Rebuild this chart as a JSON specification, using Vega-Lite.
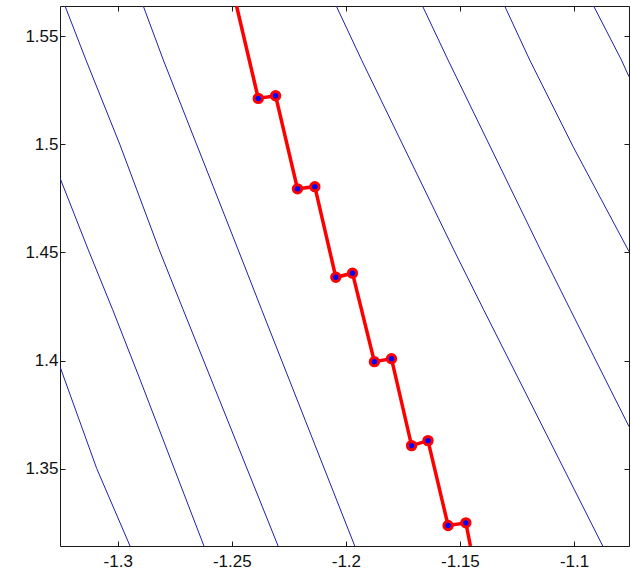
{
  "$schema": "https://vega.github.io/schema/vega-lite/v6.json",
  "width": 569,
  "height": 540,
  "autosize": "none",
  "padding": {"left": 60, "top": 6, "right": 2, "bottom": 31},
  "background": "white",
  "config": {
    "view": {"stroke": "#1a1a1a", "strokeWidth": 1},
    "axis": {
      "domain": false,
      "grid": false,
      "tickColor": "#1a1a1a",
      "tickSize": -5,
      "labelFont": "Liberation Sans",
      "labelFontSize": 17,
      "labelColor": "#111",
      "title": null
    }
  },
  "datasets": {
    "contours": [
      {"line": "A", "i": 0, "x": -1.3253, "y": 1.3972},
      {"line": "A", "i": 1, "x": -1.3092, "y": 1.3501},
      {"line": "A", "i": 2, "x": -1.2946, "y": 1.3143},
      {"line": "B", "i": 0, "x": -1.3253, "y": 1.4844},
      {"line": "B", "i": 1, "x": -1.3129, "y": 1.4512},
      {"line": "B", "i": 2, "x": -1.3022, "y": 1.4235},
      {"line": "B", "i": 3, "x": -1.2902, "y": 1.3912},
      {"line": "B", "i": 4, "x": -1.2622, "y": 1.3143},
      {"line": "C", "i": 0, "x": -1.3231, "y": 1.5639},
      {"line": "C", "i": 1, "x": -1.3139, "y": 1.5389},
      {"line": "C", "i": 2, "x": -1.2990, "y": 1.4997},
      {"line": "C", "i": 3, "x": -1.2818, "y": 1.4512},
      {"line": "C", "i": 4, "x": -1.2713, "y": 1.4235},
      {"line": "C", "i": 5, "x": -1.2297, "y": 1.3143},
      {"line": "D", "i": 0, "x": -1.2888, "y": 1.5639},
      {"line": "D", "i": 1, "x": -1.2800, "y": 1.5389},
      {"line": "D", "i": 2, "x": -1.2472, "y": 1.4512},
      {"line": "D", "i": 3, "x": -1.2369, "y": 1.4235},
      {"line": "D", "i": 4, "x": -1.1961, "y": 1.3143},
      {"line": "E", "i": 0, "x": -1.2042, "y": 1.5639},
      {"line": "E", "i": 1, "x": -1.1931, "y": 1.5389},
      {"line": "E", "i": 2, "x": -1.1527, "y": 1.4512},
      {"line": "E", "i": 3, "x": -1.1396, "y": 1.4235},
      {"line": "E", "i": 4, "x": -1.0874, "y": 1.3143},
      {"line": "F", "i": 0, "x": -1.1664, "y": 1.5639},
      {"line": "F", "i": 1, "x": -1.1552, "y": 1.5389},
      {"line": "F", "i": 2, "x": -1.1147, "y": 1.4512},
      {"line": "F", "i": 3, "x": -1.1016, "y": 1.4235},
      {"line": "F", "i": 4, "x": -1.0759, "y": 1.3695},
      {"line": "G", "i": 0, "x": -1.1304, "y": 1.5639},
      {"line": "G", "i": 1, "x": -1.1194, "y": 1.5389},
      {"line": "G", "i": 2, "x": -1.1004, "y": 1.4989},
      {"line": "G", "i": 3, "x": -1.0759, "y": 1.4504},
      {"line": "H", "i": 0, "x": -1.0914, "y": 1.5639},
      {"line": "H", "i": 1, "x": -1.0792, "y": 1.5389},
      {"line": "H", "i": 2, "x": -1.0759, "y": 1.5312}
    ],
    "path": [
      {"i": 0, "x": -1.2479, "y": 1.5639, "dot": false},
      {"i": 1, "x": -1.2384, "y": 1.5212, "dot": true},
      {"i": 2, "x": -1.2308, "y": 1.5224, "dot": true},
      {"i": 3, "x": -1.2212, "y": 1.4794, "dot": true},
      {"i": 4, "x": -1.2136, "y": 1.4804, "dot": true},
      {"i": 5, "x": -1.2044, "y": 1.4385, "dot": true},
      {"i": 6, "x": -1.1971, "y": 1.4404, "dot": true},
      {"i": 7, "x": -1.1875, "y": 1.3995, "dot": true},
      {"i": 8, "x": -1.1800, "y": 1.4009, "dot": true},
      {"i": 9, "x": -1.1712, "y": 1.3607, "dot": true},
      {"i": 10, "x": -1.1640, "y": 1.3630, "dot": true},
      {"i": 11, "x": -1.1552, "y": 1.3238, "dot": true},
      {"i": 12, "x": -1.1474, "y": 1.3250, "dot": true},
      {"i": 13, "x": -1.1454, "y": 1.3143, "dot": false}
    ]
  },
  "resolve": {"axis": {"x": "independent", "y": "independent"}},
  "layer": [
    {
      "data": {"name": "contours"},
      "mark": {"type": "line", "color": "#2020a8", "strokeWidth": 1, "clip": true},
      "encoding": {
        "x": {"field": "x", "type": "quantitative", "scale": {"domain": [-1.3253, -1.0759], "nice": false, "zero": false},
              "axis": {"orient": "bottom", "values": [-1.3, -1.25, -1.2, -1.15, -1.1], "format": "~f", "labelPadding": 12, "labelExpr": "replace(datum.label, '−', '-')"}},
        "y": {"field": "y", "type": "quantitative", "scale": {"domain": [1.3143, 1.5639], "nice": false, "zero": false},
              "axis": {"orient": "left", "values": [1.35, 1.4, 1.45, 1.5, 1.55], "format": "~f", "labelPadding": 7}},
        "detail": {"field": "line"},
        "order": {"field": "i"}
      }
    },
    {
      "data": {"name": "path"},
      "mark": {"type": "line", "color": "#ff0000", "strokeWidth": 3.5, "clip": true},
      "encoding": {
        "x": {"field": "x", "type": "quantitative", "scale": {"domain": [-1.3253, -1.0759], "nice": false, "zero": false},
              "axis": {"orient": "top", "values": [-1.3, -1.25, -1.2, -1.15, -1.1], "labels": false}},
        "y": {"field": "y", "type": "quantitative", "scale": {"domain": [1.3143, 1.5639], "nice": false, "zero": false},
              "axis": {"orient": "right", "values": [1.35, 1.4, 1.45, 1.5, 1.55], "labels": false}},
        "order": {"field": "i"}
      }
    },
    {
      "data": {"name": "path"},
      "transform": [{"filter": "datum.dot"}],
      "mark": {"type": "point", "filled": true, "fill": "#0000ff", "stroke": "#ff0000", "strokeWidth": 3, "size": 70, "opacity": 1},
      "encoding": {
        "x": {"field": "x", "type": "quantitative", "axis": null},
        "y": {"field": "y", "type": "quantitative", "axis": null}
      }
    }
  ]
}
